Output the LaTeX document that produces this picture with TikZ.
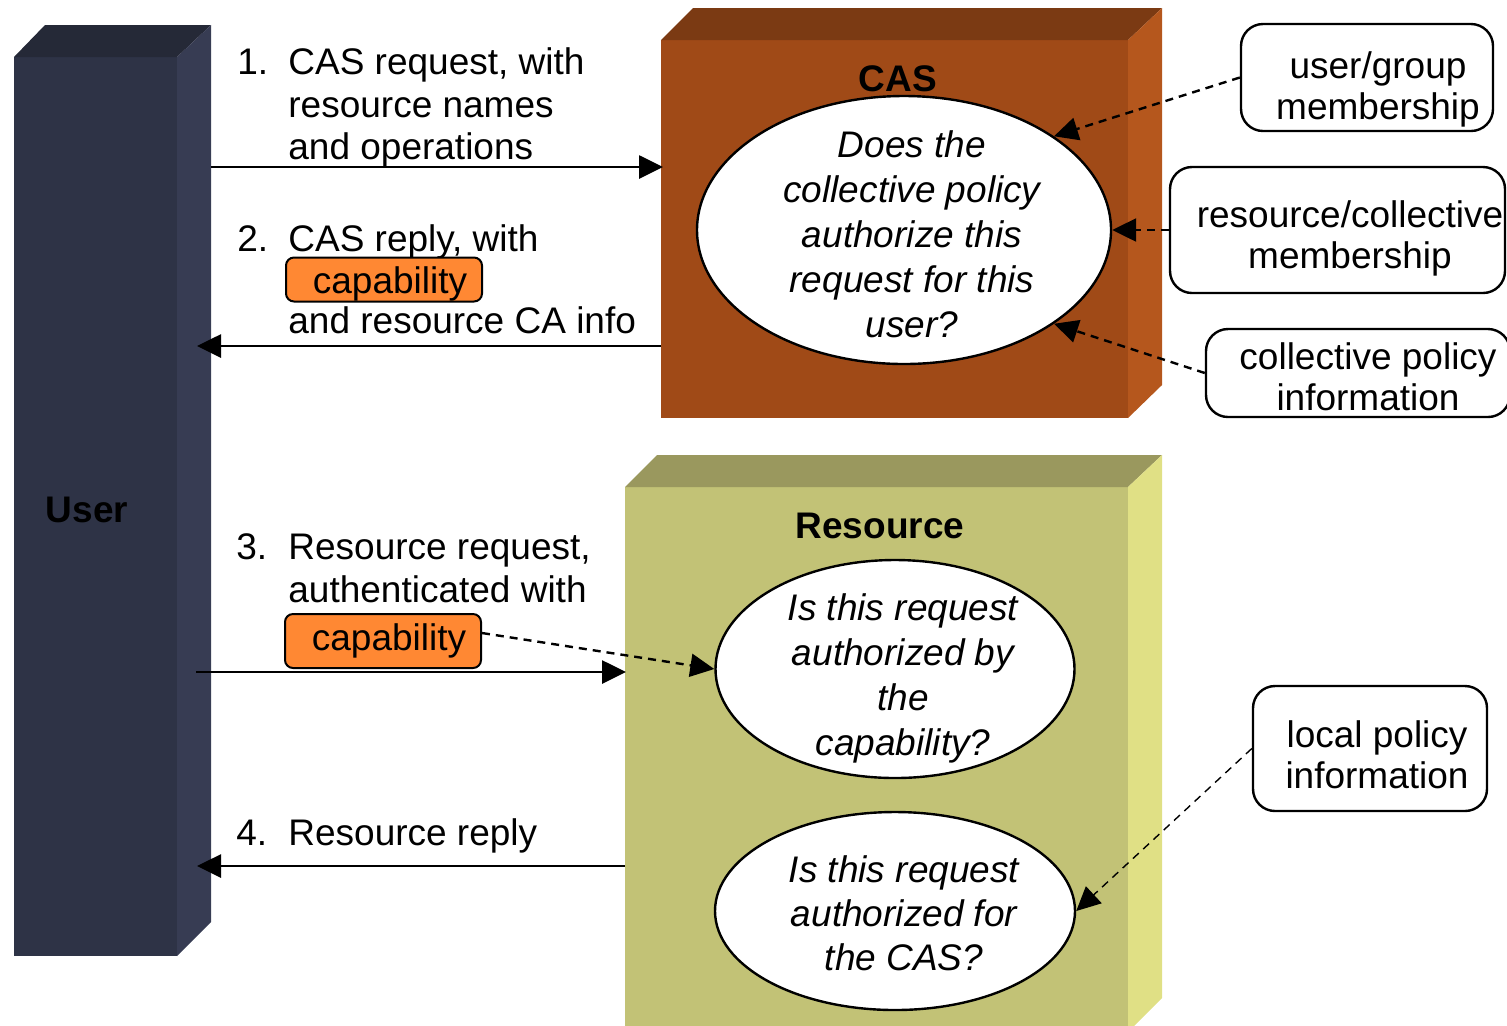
\documentclass[tikz,border=0pt]{standalone}
\usepackage{fontspec}
\setmainfont{Liberation Sans}
\usetikzlibrary{arrows.meta,shapes.geometric}
\definecolor{userfront}{HTML}{2E3346}
\definecolor{usertop}{HTML}{252937}
\definecolor{userside}{HTML}{373C53}
\definecolor{casfront}{HTML}{A04A17}
\definecolor{castop}{HTML}{7B3A13}
\definecolor{casside}{HTML}{B5571D}
\definecolor{resfront}{HTML}{C2C276}
\definecolor{restop}{HTML}{9A985E}
\definecolor{resside}{HTML}{E0E085}
\definecolor{capfill}{HTML}{FF8833}
\begin{document}
\begin{tikzpicture}[x=0.5pt,y=-0.5pt,
  txt/.style={font=\fontsize{18.5}{22}\selectfont, inner sep=0pt, anchor=base west},
  ttl/.style={font=\bfseries\fontsize{18.5}{22}\selectfont, inner sep=0pt},
  etxt/.style={font=\itshape\fontsize{18.5}{22.5}\selectfont, align=center, inner sep=0pt},
  rtxt/.style={font=\fontsize{18.5}{20.5}\selectfont, align=center, inner sep=0pt},
  qell/.style={ellipse, draw=black, fill=white, line width=1.2pt, inner sep=0pt},
  capbox/.style={draw=black, fill=capfill, line width=1pt, rounded corners=4pt, minimum width=98pt, font=\fontsize{18.5}{22}\selectfont, inner sep=0pt},
  infobox/.style={draw=black, fill=white, line width=1.2pt, rounded corners=11pt, inner sep=0pt},
  msg/.style={line width=1.4pt, -{Triangle[length=12pt,width=11.5pt]}},
  dep/.style={line width=1.2pt, dash pattern=on 4pt off 3pt, -{Triangle[length=12pt,width=11.5pt]}},
  depthin/.style={line width=0.7pt, dash pattern=on 4pt off 3pt, -{Triangle[length=12pt,width=11.5pt]}}
]
\useasboundingbox (0,0) rectangle (1507,1025);
% User block
\fill[userfront] (14,57) rectangle (177,956);
\fill[usertop] (14,57) -- (45,25) -- (211,25) -- (177,57) -- cycle;
\fill[userside] (177,57) -- (211,25) -- (211,922) -- (177,956) -- cycle;
% CAS block
\fill[casfront] (661,40) rectangle (1128,418);
\fill[castop] (661,40) -- (693,8) -- (1162,8) -- (1128,40) -- cycle;
\fill[casside] (1128,40) -- (1162,8) -- (1162,385) -- (1128,418) -- cycle;
% Resource block
\fill[resfront] (625,487) rectangle (1128,1032);
\fill[restop] (625,487) -- (657,455) -- (1162,455) -- (1128,487) -- cycle;
\fill[resside] (1128,487) -- (1162,455) -- (1162,998) -- (1128,1032) -- cycle;
% titles
\node[ttl] (usert) at (87,510) {User};
\node[ttl] (cast) at (898,79) {CAS};
\node[ttl] (rest) at (880,526) {Resource};
% ellipses
\node[qell, minimum width=207pt, minimum height=134pt] (casq) at (904,230) {};
\node[etxt] (casqt) at (912,234) {Does the\\collective policy\\authorize this\\request for this\\user?};
\node[qell, minimum width=179.5pt, minimum height=109pt] (capq) at (895,669) {};
\node[etxt] (capqt) at (903,678) {Is this request\\authorized by\\the\\capability?};
\node[qell, minimum width=180pt, minimum height=99pt] (casok) at (895,911) {};
\node[etxt, font=\itshape\fontsize{18.5}{22}\selectfont] (casokt) at (904,913) {Is this request\\authorized for\\the CAS?};
% info boxes
\node[infobox, minimum width=126pt, minimum height=53.5pt] (ug) at (1367,77.5) {};
\node[rtxt] (ugt) at (1378,89) {user/group\\membership};
\node[infobox, minimum width=167.5pt, minimum height=63pt] (rc) at (1337.5,230) {};
\node[rtxt] (rct) at (1350,238) {resource/collective\\membership};
\node[infobox, minimum width=152pt, minimum height=44pt] (cp) at (1358,373) {};
\node[rtxt] (cpt) at (1368,377) {collective policy\\information};
\node[infobox, minimum width=117pt, minimum height=62.5pt] (lp) at (1370,748.5) {};
\node[rtxt] (lpt) at (1377,755) {local policy\\information};
% message coordinates
\coordinate (u1) at (211,167); \coordinate (c1) at (663,167);
\coordinate (c2) at (661,346); \coordinate (u2) at (197,346);
\coordinate (u3) at (196,672); \coordinate (r3) at (626,672);
\coordinate (r4) at (625,866); \coordinate (u4) at (197,866);
\draw[msg] (u1) -- (c1);
\draw[msg] (c2) -- (u2);
\draw[msg] (u3) -- (r3);
\draw[msg] (r4) -- (u4);
% message texts
\node[txt] (n1) at (237,74) {1.};
\node[txt] (m1a) at (288,74) {CAS request, with};
\node[txt] (m1b) at (288,117) {resource names};
\node[txt] (m1c) at (288,159) {and operations};
\node[txt] (n2) at (237,251) {2.};
\node[txt] (m2a) at (288,251) {CAS reply, with};
\node[capbox, minimum height=22pt, text height=17pt, text depth=3.5pt] (cap1) at (384,279.5) {\hspace*{6pt}capability};
\node[txt] (m2c) at (288,333) {and resource CA info};
\node[txt] (n3) at (236,559) {3.};
\node[txt] (m3a) at (288,559) {Resource request,};
\node[txt] (m3b) at (288,602) {authenticated with};
\node[capbox, minimum height=27pt] (cap2) at (383,641) {\hspace*{6pt}capability};
\node[txt] (n4) at (236,845) {4.};
\node[txt] (m4a) at (288,845) {Resource reply};
% dependency arrows
\draw[dep] (ug.west) -- (casq.32);
\draw[dep] (rc.west) -- (casq.east);
\draw[dep] (cp.west) -- (casq.-32);
\draw[dep] ([yshift=4pt]cap2.east) -- (capq.west);
\draw[depthin] (lp.west) -- (casok.east);
\end{tikzpicture}
\end{document}
